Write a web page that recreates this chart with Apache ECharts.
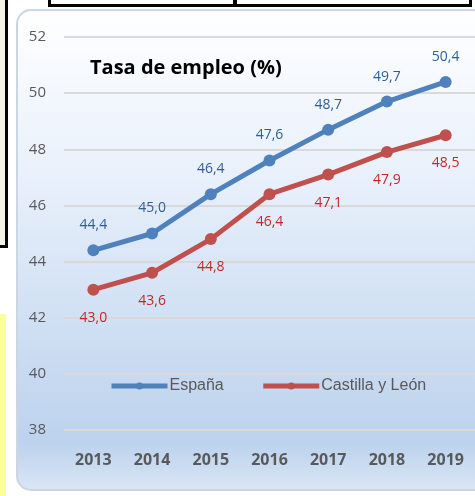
<!DOCTYPE html>
<html>
<head>
<meta charset="utf-8">
<script src="https://cdn.jsdelivr.net/npm/echarts@6/dist/echarts.min.js"></script>
<style>
  html, body { margin: 0; padding: 0; background: #fff; }
  #chart { width: 475px; height: 496px; }
</style>
</head>
<body>
<div id="chart"></div>
<script>
// datos
var years = ['2013', '2014', '2015', '2016', '2017', '2018', '2019']
var espana = [44.4, 45.0, 46.4, 47.6, 48.7, 49.7, 50.4]
var castilla = [43.0, 43.6, 44.8, 46.4, 47.1, 47.9, 48.5]

var font = 'Open Sans'
var fmt = function(p) { return p.value.toFixed(1).replace('.', ',') }

var chart = echarts.init(document.getElementById('chart'))
chart.setOption({
  animation: false,
  textStyle: { fontFamily: font },
  // recuadros de alrededor + panel
  graphic: [
    { type: 'rect', z: -10, shape: { x: 0, y: 0, width: 6, height: 246 }, style: { fill: '#f3f3e4' } },
    { type: 'rect', z: -10, shape: { x: 5, y: 0, width: 3, height: 248 }, style: { fill: '#000' } },
    { type: 'rect', z: -10, shape: { x: 0, y: 245, width: 8, height: 3 }, style: { fill: '#000' } },
    { type: 'rect', z: -10, shape: { x: 0, y: 314, width: 6, height: 182 }, style: { fill: '#ffff99' } },
    { type: 'rect', z: -10, shape: { x: 48, y: 4, width: 424, height: 3 }, style: { fill: '#000' } },
    { type: 'rect', z: -10, shape: { x: 48, y: 0, width: 3, height: 7 }, style: { fill: '#000' } },
    { type: 'rect', z: -10, shape: { x: 233, y: 0, width: 4, height: 7 }, style: { fill: '#000' } },
    { type: 'rect', z: -10, shape: { x: 469, y: 0, width: 3, height: 7 }, style: { fill: '#000' } },
    {
      type: 'rect', z: -5,
      shape: { x: 17, y: 10, width: 470, height: 480, r: 14 },
      style: {
        stroke: '#ccd6e2', lineWidth: 2,
        fill: new echarts.graphic.LinearGradient(0, 0, 0, 1, [
          { offset: 0, color: '#ffffff' },
          { offset: 0.35, color: '#e8f0fb' },
          { offset: 0.9, color: '#bcd2ed' },
          { offset: 1, color: '#dae6f5' }
        ])
      }
    }
  ],
  title: {
    text: 'Tasa de empleo (%)',
    left: 85,
    top: 53,
    textStyle: { fontFamily: font, fontSize: 20, fontWeight: 'bold', color: '#000' }
  },
  legend: {
    top: 373,
    left: 104,
    itemGap: 37,
    itemWidth: 56,
    itemHeight: 9,
    lineStyle: { width: 5 },
    textStyle: { fontFamily: 'Liberation Sans', fontSize: 16, color: '#595959', padding: [0, 0, 0, -3] },
    data: ['España', 'Castilla y León']
  },
  grid: { left: 64, right: -5, top: 37, bottom: 66 },
  xAxis: {
    type: 'category',
    data: years,
    axisLine: { show: false },
    axisTick: { show: false },
    axisLabel: { margin: 22, fontFamily: font, fontSize: 16, fontWeight: 'bold', color: '#595959' }
  },
  yAxis: {
    type: 'value',
    min: 38,
    max: 52,
    interval: 2,
    axisLine: { show: false },
    axisTick: { show: false },
    axisLabel: { margin: 18, fontFamily: font, fontSize: 15, color: '#595959' },
    splitLine: { lineStyle: { color: '#d9d9d9', width: 2 } }
  },
  series: [
    {
      name: 'España',
      type: 'line',
      data: espana,
      symbol: 'circle',
      symbolSize: 12,
      lineStyle: { width: 5, color: '#4f81bd' },
      itemStyle: { color: '#4f81bd' },
      label: { show: true, position: 'top', distance: 12, formatter: fmt, fontFamily: font, fontSize: 14, color: '#2f5d97' }
    },
    {
      name: 'Castilla y León',
      type: 'line',
      data: castilla,
      symbol: 'circle',
      symbolSize: 12,
      lineStyle: { width: 5, color: '#c0504d' },
      itemStyle: { color: '#c0504d' },
      label: { show: true, position: 'bottom', distance: 15, formatter: fmt, fontFamily: font, fontSize: 14, color: '#c0282d' }
    }
  ]
})
</script>
</body>
</html>
